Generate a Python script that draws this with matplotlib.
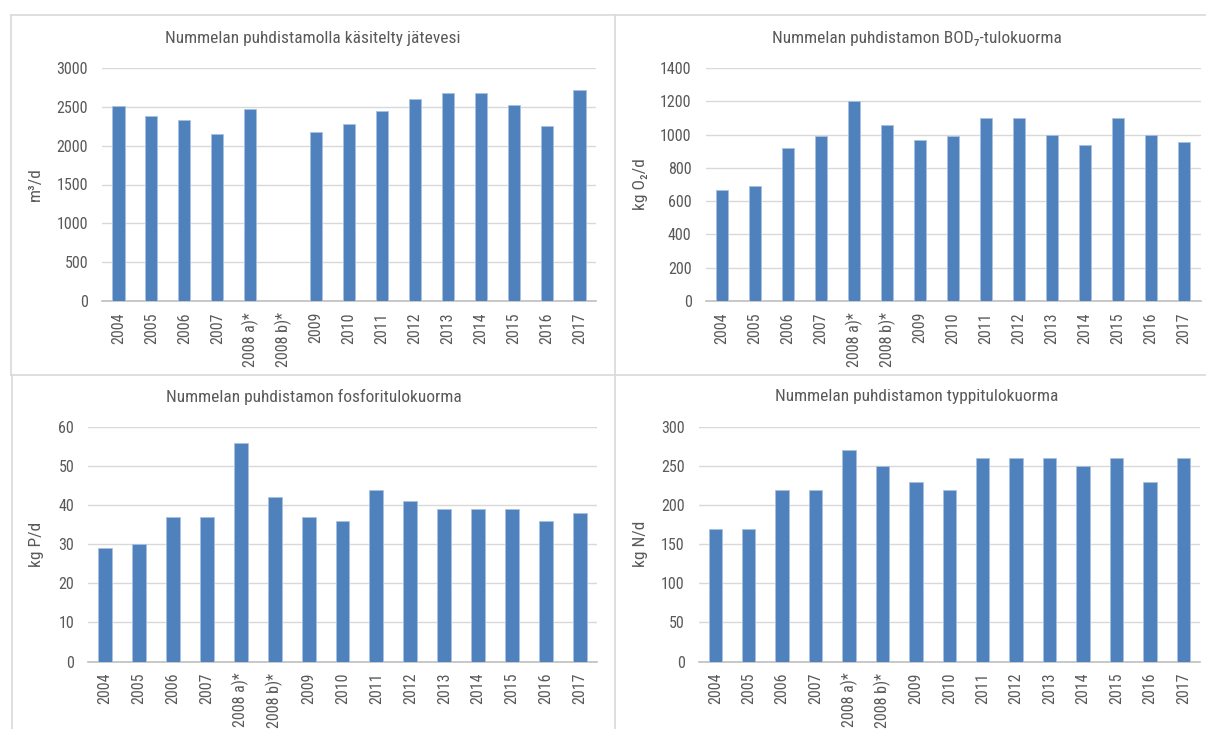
import numpy as np
import matplotlib
matplotlib.use("Agg")
import matplotlib.pyplot as plt
from matplotlib.lines import Line2D
import logging
logging.getLogger('matplotlib.font_manager').setLevel(logging.ERROR)

categories = ["2004", "2005", "2006", "2007", "2008 a)*", "2008 b)*", "2009", "2010",
              "2011", "2012", "2013", "2014", "2015", "2016", "2017"]

water = [2507, 2387, 2327, 2156, 2469, np.nan, 2177, 2276, 2451, 2597, 2679, 2679, 2524, 2259, 2721]
bod = [666, 688, 920, 990, 1200, 1058, 970, 990, 1100, 1100, 1000, 938, 1100, 1000, 958]
phos = [29, 30, 37, 37, 56, 42, 37, 36, 44, 41, 39, 39, 39, 36, 38]
nitro = [170, 170, 220, 220, 270, 250, 230, 220, 260, 260, 260, 250, 260, 230, 260]

titles = ["Nummelan puhdistamolla käsitelty jätevesi",
          "Nummelan puhdistamon BOD\u2087-tulokuorma",
          "Nummelan puhdistamon fosforitulokuorma",
          "Nummelan puhdistamon typpitulokuorma"]
ylabels = ["m\u00b3/d", "kg O\u2082/d", "kg P/d", "kg N/d"]
yticks = [np.arange(0, 3001, 500), np.arange(0, 1401, 200), np.arange(0, 61, 10), np.arange(0, 301, 50)]
series = [water, bod, phos, nitro]

FONT = ['Liberation Sans Narrow', 'Roboto Condensed', 'Archivo Narrow', 'PT Sans Narrow',
        'Open Sans Condensed', 'DejaVu Sans']
plt.rcParams['font.family'] = FONT
TXT = '#595959'
BAR = '#4F81BD'

W, H = 1206, 729
fig = plt.figure(figsize=(W / 100, H / 100), dpi=100)

def fx(px):
    return px / W

def fy(py):
    return 1 - py / H

# axes rectangles in pixels: left, right, top, bottom
rects = [(102, 596, 68, 301), (705.5, 1200.5, 68, 301),
         (88, 597, 427, 661.5), (698.6, 1200, 427, 661.5)]
label_x = [-0.119, -0.116, -0.087, -0.100]
title_pos = [(313, 38), (917, 38), (314, 397), (917, 397)]
widths = [0.37, 0.39, 0.41, 0.40]

for i in range(4):
    l, r, t, b = rects[i]
    ax = fig.add_axes([fx(l), fy(b), fx(r - l), (b - t) / H])
    x = np.arange(len(categories))
    ax.bar(x, series[i], width=widths[i], color=BAR, edgecolor='#A9C1E0', linewidth=0.6, zorder=3)
    ax.set_xlim(-0.5, len(categories) - 0.5)
    ax.set_ylim(0, yticks[i][-1])
    ax.set_yticks(yticks[i])
    ax.set_xticks(x)
    ax.set_xticklabels(categories, rotation=90)
    ax.tick_params(axis='both', length=0, colors=TXT, labelsize=11.5)
    ax.tick_params(axis='y', pad=10)
    ax.tick_params(axis='x', pad=8)
    ax.grid(axis='y', color='#D9D9D9', linewidth=1, zorder=0)
    for s in ['left', 'right', 'top']:
        ax.spines[s].set_visible(False)
    ax.spines['bottom'].set_color('#BFBFBF')
    ax.spines['bottom'].set_linewidth(1.2)
    ax.set_ylabel(ylabels[i], color=TXT, fontsize=12.5)
    ax.yaxis.set_label_coords(label_x[i], 0.5)
    tx, ty = title_pos[i]
    fig.text(fx(tx), fy(ty), titles[i], ha='center', va='center', color=TXT, fontsize=12.5)

# panel frames
frame_col = '#D9D9D9'
fig.add_artist(Line2D([fx(11), fx(1206)], [fy(14.5), fy(14.5)], color=frame_col, lw=1.2))
fig.add_artist(Line2D([fx(11), fx(1206)], [fy(374.5), fy(374.5)], color=frame_col, lw=1.2))
fig.add_artist(Line2D([fx(11), fx(11)], [fy(14.5), fy(374.5)], color=frame_col, lw=1.2))
fig.add_artist(Line2D([fx(12), fx(12)], [fy(374.5), fy(729)], color=frame_col, lw=1.2))
fig.add_artist(Line2D([fx(614.5), fx(614.5)], [fy(14.5), fy(729)], color=frame_col, lw=1.2))

fig.savefig('out.png', dpi=100, facecolor='white')
